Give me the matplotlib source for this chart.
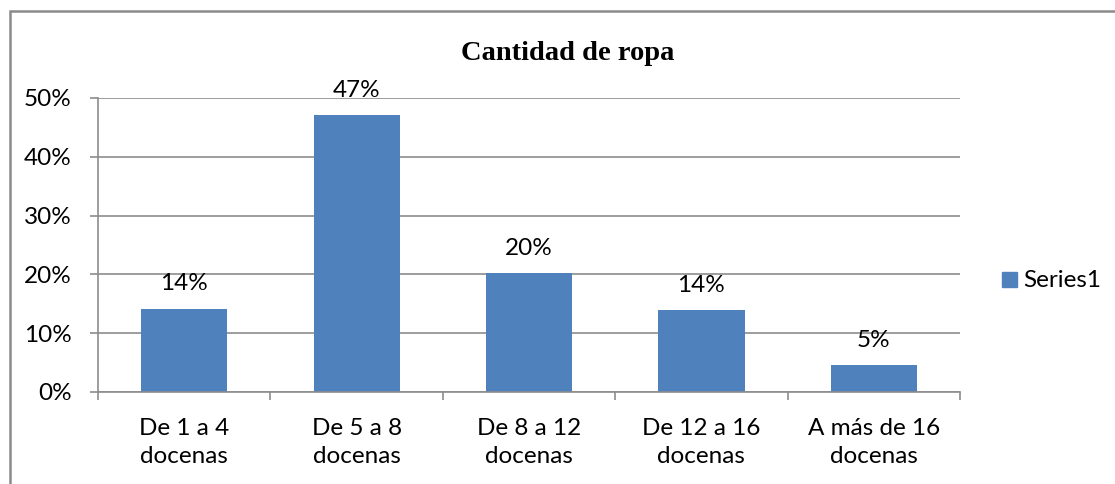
import matplotlib
matplotlib.use("Agg")
import matplotlib.pyplot as plt
from matplotlib.patches import Rectangle
from matplotlib.ticker import FixedLocator

categories = ["De 1 a 4\ndocenas", "De 5 a 8\ndocenas", "De 8 a 12\ndocenas",
              "De 12 a 16\ndocenas", "A más de 16\ndocenas"]
values = [14.2, 47.1, 20.2, 13.9, 4.6]
labels = ["14%", "47%", "20%", "14%", "5%"]
yticks = [0, 10, 20, 30, 40, 50]
ytick_labels = ["0%", "10%", "20%", "30%", "40%", "50%"]
title = "Cantidad de ropa"
series_name = "Series1"

W, H = 1115, 484
fig = plt.figure(figsize=(W / 100, H / 100), dpi=100)
sans = ["Lato", "DejaVu Sans"]
fs = 17.5
bar_color = "#4F81BD"
grid_color = "#8C8C8C"

ax = fig.add_axes([98 / W, 1 - 392 / H, 862 / W, 294 / H])
x = list(range(len(categories)))
ax.bar(x, values, width=0.5, color=bar_color, zorder=3)
ax.set_xlim(-0.5, len(categories) - 0.5)
ax.set_ylim(0, 50)
ax.set_yticks(yticks)
ax.set_yticklabels(ytick_labels, family=sans, fontsize=fs)
ax.set_xticks(x)
ax.set_xticklabels(categories, family=sans, fontsize=fs, linespacing=1.37)
ax.tick_params(axis="x", length=0, pad=19)
ax.xaxis.set_minor_locator(FixedLocator([i - 0.5 for i in range(len(categories) + 1)]))
ax.tick_params(axis="x", which="minor", length=6, width=1.2, color=grid_color, direction="out")
ax.tick_params(axis="y", length=6, width=1.2, color=grid_color, direction="out", pad=13)
ax.grid(axis="y", color=grid_color, linewidth=1.2, zorder=0)
for s in ["top", "right"]:
    ax.spines[s].set_visible(False)
for s in ["left", "bottom"]:
    ax.spines[s].set_color(grid_color)
    ax.spines[s].set_linewidth(1.2)
    ax.spines[s].set_zorder(4)

for xi, v, lab in zip(x, values, labels):
    ax.annotate(lab, (xi, v), xytext=(0, 13), textcoords="offset points",
                ha="center", va="baseline", family=sans, fontsize=fs)

fig.text(568 / W, 1 - 60 / H, title, ha="center", va="baseline",
         family=["Liberation Serif", "DejaVu Serif"], fontweight="bold", fontsize=20.5)

# legend
fig.patches.append(Rectangle((1002 / W, 1 - 287 / H), 15 / W, 15 / H,
                             transform=fig.transFigure, color=bar_color))
fig.text(1023 / W, 1 - 287 / H, series_name, ha="left", va="baseline",
         family=sans, fontsize=fs)

# chart border
fig.patches.append(Rectangle((10 / W, -0.05), 1.1, 1 - 11 / H + 0.05,
                             transform=fig.transFigure, fill=False,
                             edgecolor="#8A8A8A", linewidth=1.8))

fig.savefig("out.png", dpi=100)
